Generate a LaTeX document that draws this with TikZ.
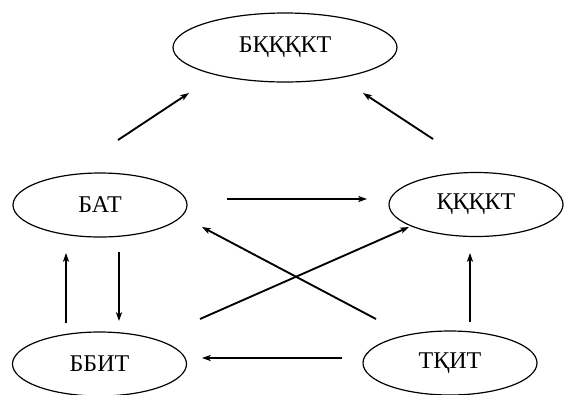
\documentclass[tikz,border=0pt]{standalone}
\usepackage{fontspec}
\setmainfont{Liberation Serif}
\usetikzlibrary{arrows.meta, positioning, shapes.geometric}

\begin{document}
\begin{tikzpicture}[x=0.75pt, y=-0.75pt,
          font=\fontsize{18}{22}\selectfont,
          proc/.style={ellipse, draw, line width=0.9pt, minimum width=130.5pt, minimum height=48pt, inner sep=0pt},
          link/.style={-{Stealth[length=6.5pt, width=4.5pt, inset=1.5pt]}, line width=1.4pt}]

          \useasboundingbox (0,0) rectangle (564,394);

          % Nodes
          \node[proc, minimum width=168pt, minimum height=51.75pt] (bkkkt) at (285,47.5) {БҚҚҚКТ};
          \node[proc] (bat) at (100,205) {БАТ};
          \node[proc] (kkkkt) at (476,204.5) {ҚҚҚКТ};
          \node[proc] (bbit) at (99.5,364) {ББИТ};
          \node[proc] (tkit) at (450,363) {ТҚИТ};

          % Arrow ends
          \coordinate (bat-out1) at (118,140);
          \coordinate (bkkkt-in1) at (189,93);
          \coordinate (kkkkt-out1) at (433,139);
          \coordinate (bkkkt-in2) at (363,93);
          \coordinate (bat-out2) at (227,199);
          \coordinate (kkkkt-in1) at (367,199);
          \coordinate (bbit-out1) at (66,323);
          \coordinate (bat-in1) at (66,253);
          \coordinate (bat-out3) at (119,252);
          \coordinate (bbit-in1) at (119,321);
          \coordinate (tkit-out1) at (376,319);
          \coordinate (bat-in2) at (202,227);
          \coordinate (bbit-out2) at (200,319);
          \coordinate (kkkkt-in2) at (409,227);
          \coordinate (tkit-out2) at (342,358);
          \coordinate (bbit-in2) at (202,358);
          \coordinate (tkit-out3) at (470,322);
          \coordinate (kkkkt-in3) at (470,253);

          % Arrows
          \draw[link] (bat-out1) -- (bkkkt-in1);
          \draw[link] (kkkkt-out1) -- (bkkkt-in2);
          \draw[link] (bat-out2) -- (kkkkt-in1);
          \draw[link] (bbit-out1) -- (bat-in1);
          \draw[link] (bat-out3) -- (bbit-in1);
          \draw[link] (tkit-out1) -- (bat-in2);
          \draw[link] (bbit-out2) -- (kkkkt-in2);
          \draw[link] (tkit-out2) -- (bbit-in2);
          \draw[link] (tkit-out3) -- (kkkkt-in3);
        \end{tikzpicture}
\end{document}
